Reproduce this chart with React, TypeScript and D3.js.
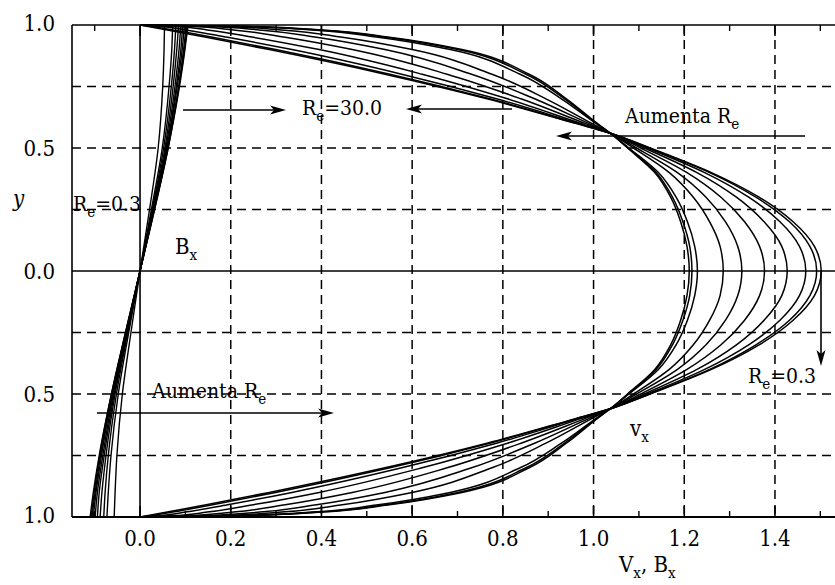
import React from 'react';
import * as d3 from 'd3';

// y levels (upper half, mirrored for the lower half) at which the velocity profiles were read
const yLevels = [0, 0.1, 0.2, 0.3, 0.4, 0.5, 0.56, 0.6, 0.7, 0.8, 0.9, 0.95, 0.98, 0.995, 1.0];

// Vx profiles, from the flattest (largest Re) to the parabolic one (Re = 0.3)
const vx0 = [1.211, 1.206, 1.192, 1.170, 1.135, 1.075, 1.037, 1.008, 0.940, 0.858, 0.710, 0.550, 0.400, 0.220, 0];
const vx1 = [1.217, 1.212, 1.197, 1.174, 1.138, 1.076, 1.037, 1.007, 0.936, 0.851, 0.701, 0.542, 0.393, 0.216, 0];
const vx2 = [1.229, 1.223, 1.207, 1.182, 1.143, 1.078, 1.037, 1.005, 0.929, 0.838, 0.684, 0.525, 0.379, 0.207, 0];
const vx3 = [1.286, 1.279, 1.256, 1.220, 1.167, 1.088, 1.037, 0.996, 0.895, 0.776, 0.600, 0.446, 0.312, 0.167, 0];
const vx4 = [1.327, 1.318, 1.291, 1.248, 1.185, 1.095, 1.037, 0.989, 0.870, 0.731, 0.540, 0.389, 0.264, 0.138, 0];
const vx5 = [1.377, 1.366, 1.333, 1.281, 1.206, 1.104, 1.037, 0.981, 0.840, 0.677, 0.468, 0.320, 0.206, 0.103, 0];
const vx6 = [1.427, 1.415, 1.376, 1.315, 1.228, 1.112, 1.037, 0.972, 0.810, 0.622, 0.395, 0.250, 0.148, 0.068, 0];
const vx7 = [1.468, 1.454, 1.411, 1.342, 1.245, 1.119, 1.037, 0.966, 0.786, 0.577, 0.335, 0.193, 0.100, 0.039, 0];
const vx8 = [1.492, 1.477, 1.432, 1.358, 1.256, 1.123, 1.037, 0.962, 0.771, 0.551, 0.299, 0.160, 0.072, 0.022, 0];
const vx9 = [1.502, 1.487, 1.440, 1.365, 1.260, 1.125, 1.037, 0.960, 0.765, 0.540, 0.285, 0.146, 0.060, 0.015, 0];
const vxProfiles = [vx0, vx1, vx2, vx3, vx4, vx5, vx6, vx7, vx8, vx9];

// Bx profiles: |y| levels, upper half and lower half values
const yFieldLevels = [0, 0.25, 0.5, 0.75, 0.9, 1.0];
const bxTop = [
  [0, 0.032, 0.062, 0.087, 0.099, 0.106],
  [0, 0.032, 0.062, 0.086, 0.098, 0.104],
  [0, 0.031, 0.061, 0.085, 0.096, 0.102],
  [0, 0.031, 0.060, 0.082, 0.093, 0.098],
  [0, 0.030, 0.059, 0.080, 0.090, 0.094],
  [0, 0.029, 0.057, 0.077, 0.086, 0.090],
  [0, 0.028, 0.055, 0.073, 0.081, 0.085],
  [0, 0.027, 0.052, 0.069, 0.076, 0.079],
  [0, 0.025, 0.049, 0.064, 0.070, 0.072],
  [0, 0.021, 0.040, 0.050, 0.053, 0.054],
];
const bxBottom = [
  [0, -0.032, -0.063, -0.090, -0.103, -0.110],
  [0, -0.032, -0.063, -0.089, -0.101, -0.108],
  [0, -0.031, -0.062, -0.087, -0.099, -0.106],
  [0, -0.031, -0.061, -0.085, -0.097, -0.103],
  [0, -0.030, -0.059, -0.082, -0.094, -0.099],
  [0, -0.029, -0.057, -0.079, -0.090, -0.094],
  [0, -0.028, -0.055, -0.075, -0.084, -0.088],
  [0, -0.027, -0.052, -0.070, -0.077, -0.080],
  [0, -0.025, -0.048, -0.064, -0.070, -0.073],
  [0, -0.020, -0.039, -0.051, -0.055, -0.057],
];

const xTickValues = [0, 0.2, 0.4, 0.6, 0.8, 1.0, 1.2, 1.4];
const xTickLabels = ['0.0', '0.2', '0.4', '0.6', '0.8', '1.0', '1.2', '1.4'];
const yTickValues = [1, 0.5, 0, -0.5, -1];
const yTickLabels = ['1.0', '0.5', '0.0', '0.5', '1.0'];
const xGridValues = [0.2, 0.4, 0.6, 0.8, 1.0, 1.2, 1.4];
const yGridValues = [0.75, 0.5, 0.25, -0.25, -0.5, -0.75];
const xMinorTicks = [-0.1, 0.1, 0.3, 0.5, 0.7, 0.9, 1.1, 1.3, 1.5];

const W = 835;
const H = 585;
const FONT = "'DejaVu Serif Condensed', 'DejaVu Serif', serif";

function Arrow({ x1, y1, x2, y2 }: { x1: number; y1: number; x2: number; y2: number }) {
  const ang = Math.atan2(y2 - y1, x2 - x1);
  const L = 16;
  const Wd = 4.5;
  const bx = x2 - L * Math.cos(ang);
  const by = y2 - L * Math.sin(ang);
  const px = -Math.sin(ang) * Wd;
  const py = Math.cos(ang) * Wd;
  const ix = x2 - L * 0.75 * Math.cos(ang);
  const iy = y2 - L * 0.75 * Math.sin(ang);
  return (
    <g>
      <line x1={x1} y1={y1} x2={ix} y2={iy} stroke="#000" strokeWidth={1.6} />
      <path d={`M${x2},${y2} L${bx + px},${by + py} L${ix},${iy} L${bx - px},${by - py} Z`} fill="#000" />
    </g>
  );
}

export default function App() {
  const x = d3.scaleLinear().domain([-0.15, 1.55]).range([72, 843]);
  const y = d3.scaleLinear().domain([-1, 1]).range([517, 25]);

  const line = d3
    .line<[number, number]>()
    .x((d) => x(d[0]))
    .y((d) => y(d[1]))
    .curve(d3.curveMonotoneY);

  const vPaths = vxProfiles.map((v) => {
    const pts: [number, number][] = [];
    for (let i = yLevels.length - 1; i >= 0; i--) pts.push([v[i], yLevels[i]]);
    for (let i = 1; i < yLevels.length; i++) pts.push([v[i], -yLevels[i]]);
    return line(pts) as string;
  });

  const bPaths = bxTop.map((topVals, k) => {
    const bot = bxBottom[k];
    const pts: [number, number][] = [];
    for (let i = yFieldLevels.length - 1; i >= 0; i--) pts.push([topVals[i], yFieldLevels[i]]);
    for (let i = 1; i < yFieldLevels.length; i++) pts.push([bot[i], -yFieldLevels[i]]);
    return line(pts) as string;
  });

  const left = x(-0.15);
  const right = W;
  const top = y(1);
  const bottom = y(-1);

  const sub = (t: string, s = 15) => (
    <tspan fontSize={s} dy={6}>
      {t}
    </tspan>
  );

  return (
    <svg
      width={W}
      height={H}
      viewBox={`0 0 ${W} ${H}`}
      style={{ position: 'fixed', left: 0, top: 0, background: '#fff', fontFamily: FONT, fontStretch: 'condensed' }}
    >
      <rect x={0} y={0} width={W} height={H} fill="#fff" />
      {xGridValues.map((v) => (
        <line key={'gx' + v} x1={x(v)} x2={x(v)} y1={top} y2={bottom} stroke="#000" strokeWidth={1.5} strokeDasharray="9,6" />
      ))}
      {yGridValues.map((v) => (
        <line key={'gy' + v} x1={left} x2={right} y1={y(v)} y2={y(v)} stroke="#000" strokeWidth={1.5} strokeDasharray="9,6" />
      ))}
      <line x1={x(0)} x2={x(0)} y1={top} y2={bottom} stroke="#000" strokeWidth={1.6} />
      <line x1={left} x2={right} y1={y(0)} y2={y(0)} stroke="#000" strokeWidth={1.6} />
      <line x1={left} x2={left} y1={top} y2={bottom} stroke="#000" strokeWidth={1.6} />
      <line x1={left} x2={right} y1={top} y2={top} stroke="#000" strokeWidth={1.6} />
      <line x1={left} x2={right} y1={bottom} y2={bottom} stroke="#000" strokeWidth={1.8} />
      {xMinorTicks.map((v) => (
        <g key={'mt' + v}>
          <line x1={x(v)} x2={x(v)} y1={top} y2={top + 6} stroke="#000" strokeWidth={1.4} />
          <line x1={x(v)} x2={x(v)} y1={bottom} y2={bottom - 6} stroke="#000" strokeWidth={1.4} />
        </g>
      ))}
      {xTickValues.map((v) => (
        <g key={'Mt' + v}>
          <line x1={x(v)} x2={x(v)} y1={top} y2={top + 11} stroke="#000" strokeWidth={1.6} />
          <line x1={x(v)} x2={x(v)} y1={bottom} y2={bottom - 11} stroke="#000" strokeWidth={1.6} />
        </g>
      ))}
      {vPaths.map((d, i) => (
        <path key={'v' + i} d={d} fill="none" stroke="#000" strokeWidth={1.5} />
      ))}
      {bPaths.map((d, i) => (
        <path key={'b' + i} d={d} fill="none" stroke="#000" strokeWidth={1.4} />
      ))}
      {xTickValues.map((v, i) => (
        <text key={'xl' + v} x={x(v)} y={546} fontSize={22} textAnchor="middle">
          {xTickLabels[i]}
        </text>
      ))}
      {yTickValues.map((v, i) => (
        <text key={'yl' + i} x={55} y={y(v) + (Math.abs(v) === 1 ? -2 : 0)} dy="0.35em" fontSize={22} textAnchor="end">
          {yTickLabels[i]}
        </text>
      ))}
      <text x={13} y={206} fontSize={22} fontStyle="italic">y</text>
      <text x={619} y={572} fontSize={22}>
        V{sub('x')}
        <tspan dy={-6}>, B</tspan>
        {sub('x')}
      </text>
      <text x={302} y={115} fontSize={21}>
        R{sub('e')}
        <tspan dy={-6}>=30.0</tspan>
      </text>
      <text x={625} y={123} fontSize={21}>
        Aumenta R{sub('e')}
      </text>
      <text x={748} y={383} fontSize={21}>
        R{sub('e')}
        <tspan dy={-6}>=0.3</tspan>
      </text>
      <text x={630} y={436} fontSize={22}>
        v{sub('x')}
      </text>
      <text x={152} y={398} fontSize={21}>
        Aumenta R{sub('e')}
      </text>
      <text x={73} y={211} fontSize={21}>
        R{sub('e')}
        <tspan dy={-6}>=0.3</tspan>
      </text>
      <text x={175} y={254} fontSize={22}>
        B{sub('x')}
      </text>
      <Arrow x1={183} y1={110} x2={286} y2={110} />
      <Arrow x1={512} y1={109} x2={406} y2={109} />
      <Arrow x1={805} y1={136} x2={556} y2={136} />
      <Arrow x1={821} y1={271} x2={821} y2={366} />
      <Arrow x1={97} y1={413} x2={334} y2={413} />
    </svg>
  );
}
